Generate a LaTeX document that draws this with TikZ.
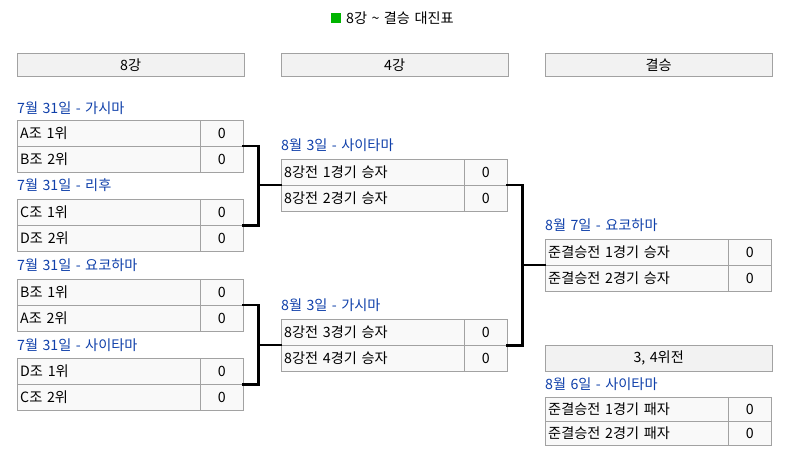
\documentclass[tikz,border=0pt]{standalone}
\usepackage{fontspec}
\setmainfont{Noto Sans CJK KR}[WordSpace=1.4]
\usepackage{tikz}
\usetikzlibrary{positioning}

\definecolor{cellline}{RGB}{162,162,162}
\definecolor{cellfill}{RGB}{249,249,249}
\definecolor{headfill}{RGB}{242,242,242}
\definecolor{dateblue}{RGB}{16,64,170}
\definecolor{markgreen}{RGB}{0,180,0}

\begin{document}
\begin{tikzpicture}[
  x=1pt, y=-1pt,
  head/.style  = {draw=cellline, fill=headfill, minimum width=227pt,
                  minimum height=23pt, inner sep=0pt, anchor=north west},
  team/.style  = {draw=cellline, fill=cellfill, text width=177pt, inner xsep=3pt,
                  inner ysep=0pt, minimum height=26pt, align=left, anchor=north west},
  score/.style = {draw=cellline, fill=cellfill, minimum width=43pt,
                  minimum height=26pt, inner sep=0pt, anchor=north west},
  date/.style  = {text=dateblue, inner sep=0pt, anchor=west},
  link/.style  = {line width=2.6pt, line cap=rect},
  every node/.style = {font=\fontsize{14.2}{15}\selectfont},
]
\useasboundingbox (0,0) rectangle (788,466);

% Title
\fill[markgreen] (331,13) rectangle (341,23);
\node[anchor=west, inner sep=0pt] (title) at (346,18) {8강 \char`~{} 결승 대진표};

% Round headers
\node[head] (h8)    at (17,53)  {8강};
\node[head] (h4)    at (281,53) {4강};
\node[head] (hfin)  at (545,53) {결승};

% Round 1: quarter finals
\node[date]  (d1)  at (17,108) {7월 31일 - 가시마};
\node[team]  (t1a) at (17,120)  {A조 1위};
\node[score] (s1a) at (200,120) {0};
\node[team]  (t1b) at (17,146)  {B조 2위};
\node[score] (s1b) at (200,146) {0};

\node[date]  (d2)  at (17,185) {7월 31일 - 리후};
\node[team]  (t2a) at (17,199)  {C조 1위};
\node[score] (s2a) at (200,199) {0};
\node[team]  (t2b) at (17,225)  {D조 2위};
\node[score] (s2b) at (200,225) {0};

\node[date]  (d3)  at (17,265) {7월 31일 - 요코하마};
\node[team]  (t3a) at (17,279)  {B조 1위};
\node[score] (s3a) at (200,279) {0};
\node[team]  (t3b) at (17,305)  {A조 2위};
\node[score] (s3b) at (200,305) {0};

\node[date]  (d4)  at (17,345) {7월 31일 - 사이타마};
\node[team]  (t4a) at (17,358)  {D조 1위};
\node[score] (s4a) at (200,358) {0};
\node[team]  (t4b) at (17,384)  {C조 2위};
\node[score] (s4b) at (200,384) {0};

% Round 2: semi finals
\node[date]  (d5)  at (281,145) {8월 3일 - 사이타마};
\node[team]  (q1a) at (281,159) {8강전 1경기 승자};
\node[score] (r1a) at (464,159) {0};
\node[team]  (q1b) at (281,185) {8강전 2경기 승자};
\node[score] (r1b) at (464,185) {0};

\node[date]  (d6)  at (281,305) {8월 3일 - 가시마};
\node[team]  (q2a) at (281,319) {8강전 3경기 승자};
\node[score] (r2a) at (464,319) {0};
\node[team]  (q2b) at (281,345) {8강전 4경기 승자};
\node[score] (r2b) at (464,345) {0};

% Final
\node[date]  (d7)  at (545,225) {8월 7일 - 요코하마};
\node[team]  (f1)  at (545,239) {준결승전 1경기 승자};
\node[score] (g1)  at (728,239) {0};
\node[team]  (f2)  at (545,265) {준결승전 2경기 승자};
\node[score] (g2)  at (728,265) {0};

% Third place
\node[head, minimum height=26pt] (h34) at (545,345) {3, 4위전};
\node[date]  (d8)  at (545,384) {8월 6일 - 사이타마};
\node[team, minimum height=24pt]  (p1) at (545,397) {준결승전 1경기 패자};
\node[score, minimum height=24pt] (o1) at (728,397) {0};
\node[team, minimum height=24pt]  (p2) at (545,421) {준결승전 2경기 패자};
\node[score, minimum height=24pt] (o2) at (728,421) {0};

% Brackets
\draw[link] (s1b.north east) -- ++(15,0) |- (s2a.south east);
\draw[link] (q1b.north west) -- ++(-23,0);
\draw[link] (s3b.north east) -- ++(15,0) |- (s4a.south east);
\draw[link] (q2b.north west) -- ++(-23,0);
\draw[link] (r1b.north east) -- ++(15,0) |- (r2a.south east);
\draw[link] (f2.north west) -- ++(-22,0);

\end{tikzpicture}
\end{document}
